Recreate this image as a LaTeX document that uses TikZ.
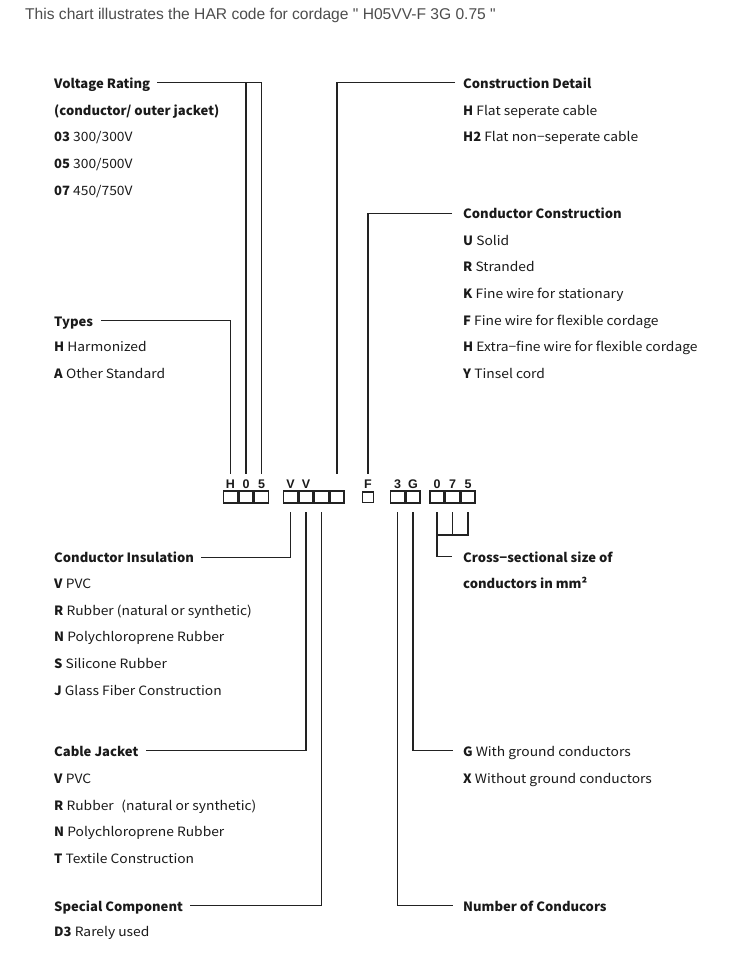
\documentclass[tikz,border=0pt]{standalone}
\usepackage{fontspec}
\setmainfont{Noto Sans CJK JP}[UprightFeatures={FakeStretch=1.08}, BoldFeatures={FakeStretch=1.02}]
\newfontfamily\titlefont{Liberation Sans}
\definecolor{ink}{HTML}{1A1A1A}
\definecolor{wirec}{HTML}{222222}
\definecolor{titlec}{HTML}{4D4D4D}
\begin{document}
\begin{tikzpicture}[x=1pt,y=-1pt,
  txt/.style={anchor=west, inner sep=0pt, text height=11pt, text depth=0pt,
    font=\fontsize{12.8}{15}\selectfont, text=ink},
  hd/.style={txt, font=\fontsize{12.8}{15}\selectfont\bfseries},
  cell/.style={draw=wirec, line width=1.5pt, minimum width=13.6pt, minimum height=11.8pt, inner sep=0pt},
  smallcell/.style={cell, minimum width=11pt, minimum height=10.8pt},
  code/.style={anchor=base, inner sep=0pt, text=ink, font=\titlefont\bfseries\fontsize{12.5}{14}\selectfont},
  wire/.style={line width=1.3pt, draw=wirec}]
\fill[white] (0,0) rectangle (740,966);
\useasboundingbox (0,0) rectangle (740,966);

% title
\node[anchor=base west, inner sep=0pt, text=titlec, font=\titlefont\fontsize{15.6}{18}\selectfont] (title) at (25,19.8)
  {This chart illustrates the HAR code for cordage " H05VV-F 3G 0.75 "};

% code cells
\node[cell] (b1) at (230.5,497) {};
\node[cell] (b2) at (246,497) {};
\node[cell] (b3) at (261.5,497) {};
\node[cell] (b4) at (290.5,497) {};
\node[cell] (b5) at (306,497) {};
\node[cell] (b6) at (321.5,497) {};
\node[cell] (b7) at (337,497) {};
\node[smallcell] (bF) at (368,497.3) {};
\node[cell] (b8) at (397.5,497) {};
\node[cell] (b9) at (413,497) {};
\node[cell] (b10) at (437,497) {};
\node[cell] (b11) at (452.5,497) {};
\node[cell] (b12) at (468,497) {};

% code letters
\node[code] (cH) at (230.5,488.3) {H};
\node[code] (c0) at (246,488.3) {0};
\node[code] (c5) at (261.5,488.3) {5};
\node[code] (cV1) at (290.5,488.3) {V};
\node[code] (cV2) at (306,488.3) {V};
\node[code] (cF) at (368,488.3) {F};
\node[code] (c3) at (397.5,488.3) {3};
\node[code] (cG) at (413,488.3) {G};
\node[code] (c00) at (437,488.3) {0};
\node[code] (c7) at (452.5,488.3) {7};
\node[code] (c55) at (468,488.3) {5};

\coordinate (top) at (0,474);
\coordinate (bot) at (0,512);
\coordinate (mid) at (0,535);

% left column, top
\node[hd] (volt) at (54,82.8) {Voltage Rating};
\node[hd] (volt1) at (54,109.5) {(conductor/ outer jacket)};
\node[txt] (volt2) at (54,136.2) {\textbf{03} 300/300V};
\node[txt] (volt3) at (54,162.8) {\textbf{05} 300/500V};
\node[txt] (volt4) at (54,189.5) {\textbf{07} 450/750V};

\node[hd] (types) at (54,320.7) {Types};
\node[txt] (types1) at (54,346.2) {\textbf{H} Harmonized};
\node[txt] (types2) at (54,372.8) {\textbf{A} Other Standard};

% left column, bottom
\node[hd] (cins) at (54,557.3) {Conductor Insulation};
\node[txt] (cins1) at (54,582.8) {\textbf{V} PVC};
\node[txt] (cins2) at (54,609.5) {\textbf{R} Rubber (natural or synthetic)};
\node[txt] (cins3) at (54,636.2) {\textbf{N} Polychloroprene Rubber};
\node[txt] (cins4) at (54,662.8) {\textbf{S} Silicone Rubber};
\node[txt] (cins5) at (54,689.5) {\textbf{J} Glass Fiber Construction};

\node[hd] (cjack) at (54,750.7) {Cable Jacket};
\node[txt] (cjack1) at (54,777.8) {\textbf{V} PVC};
\node[txt] (cjack2) at (54,804.5) {\textbf{R} Rubber\hspace{0.6em}(natural or synthetic)};
\node[txt] (cjack3) at (54,831.2) {\textbf{N} Polychloroprene Rubber};
\node[txt] (cjack4) at (54,857.8) {\textbf{T} Textile Construction};

\node[hd] (spec) at (54,905.6) {Special Component};
\node[txt] (spec1) at (54,931.2) {\textbf{D3} Rarely used};

% right column, top
\node[hd] (cdet) at (463,82.8) {Construction Detail};
\node[txt] (cdet1) at (463,109.5) {\textbf{H} Flat seperate cable};
\node[txt] (cdet2) at (463,136.2) {\textbf{H2} Flat non−seperate cable};

\node[hd] (ccon) at (463,213.3) {Conductor Construction};
\node[txt] (ccon1) at (463,239.5) {\textbf{U} Solid};
\node[txt] (ccon2) at (463,266.2) {\textbf{R} Stranded};
\node[txt] (ccon3) at (463,292.8) {\textbf{K} Fine wire for stationary};
\node[txt] (ccon4) at (463,319.5) {\textbf{F} Fine wire for flexible cordage};
\node[txt] (ccon5) at (463,346.2) {\textbf{H} Extra−fine wire for flexible cordage};
\node[txt] (ccon6) at (463,372.8) {\textbf{Y} Tinsel cord};

% right column, bottom
\node[hd] (cross) at (463,556.8) {Cross−sectional size of};
\node[hd] (cross1) at (463,582.8) {conductors in mm²};

\node[hd] (gnd) at (463,750.7) {G \mdseries With ground conductors};
\node[txt] (gnd1) at (463,777.5) {\textbf{X} Without ground conductors};

\node[hd] (numc) at (463,905.6) {Number of Conducors};

% connectors, top
\draw[wire] ([xshift=7pt]volt.east) -| (b3 |- top);
\draw[wire] (b2 |- volt.east) -- (b2 |- top);
\draw[wire] ([xshift=8pt]types.east) -| (b1 |- top);
\draw[wire] ([xshift=-8pt]cdet.west) -| (b7 |- top);
\draw[wire] ([xshift=-11pt]ccon.west) -| (bF |- top);

% connectors, bottom
\draw[wire] (b4 |- bot) |- ([xshift=7pt]cins.east);
\draw[wire] (b5 |- bot) |- ([xshift=7pt]cjack.east);
\draw[wire] (b6 |- bot) |- ([xshift=7pt]spec.east);
\draw[wire] (b8 |- bot) |- ([xshift=-10pt]numc.west);
\draw[wire] (b9 |- bot) |- ([xshift=-10pt]gnd.west);
\draw[wire] (b10 |- bot) |- ([xshift=-11pt]cross.west);
\draw[wire] (b11 |- bot) -- (b11 |- mid);
\draw[wire] (b12 |- bot) |- (b10 |- mid);
\end{tikzpicture}
\end{document}
